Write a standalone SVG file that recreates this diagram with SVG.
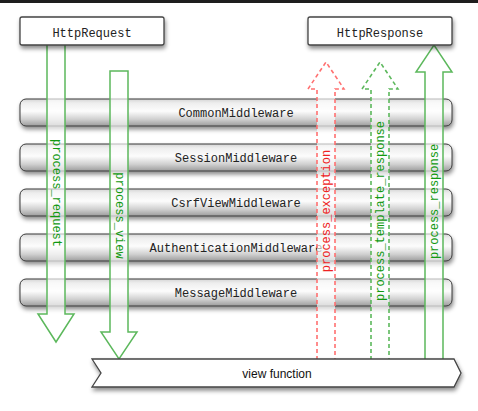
<svg xmlns="http://www.w3.org/2000/svg" width="478" height="411" viewBox="0 0 478 411">
  <style>
    .mono { font-family: "Liberation Mono", "Courier New", monospace; font-size: 12px; }
    .box { fill: #ffffff; stroke: #444444; stroke-width: 1.3; filter: url(#shadow); }
    .bar { fill: url(#barGrad); stroke: #3a3a3a; stroke-width: 1; filter: url(#shadow); }
    .barText { fill: #222222; text-anchor: middle; }
    .boxText { fill: #222222; text-anchor: middle; }
    .arrowG { fill: #ffffff; fill-opacity: 0.65; stroke: #5cb85c; stroke-width: 1.5; stroke-linejoin: miter; }
    .arrowGD { fill: #ffffff; fill-opacity: 0.65; stroke: #5cb85c; stroke-width: 1.6; stroke-dasharray: 4 3; }
    .arrowRD { fill: #ffffff; fill-opacity: 0.65; stroke: #ff7070; stroke-width: 1.6; stroke-dasharray: 4 3; }
    .lblG { fill: #119911; text-anchor: middle; }
    .lblR { fill: #ee2222; text-anchor: middle; }
    .sans { font-family: "Liberation Sans", Arial, sans-serif; font-size: 12px; fill: #111111; text-anchor: middle; }
  </style>
  <defs>
    <linearGradient id="barGrad" x1="0" y1="0" x2="0" y2="1">
      <stop offset="0" stop-color="#d4d4d4"/>
      <stop offset="0.15" stop-color="#eeeeee"/>
      <stop offset="0.45" stop-color="#fcfcfc"/>
      <stop offset="0.75" stop-color="#d0d0d0"/>
      <stop offset="1" stop-color="#9c9c9c"/>
    </linearGradient>
    <filter id="shadow" x="-10%" y="-30%" width="120%" height="180%">
      <feDropShadow dx="1" dy="3" stdDeviation="2.2" flood-color="#000000" flood-opacity="0.45"/>
    </filter>
  </defs>

  <rect x="0" y="0" width="478" height="411" fill="#ffffff"/>
  <rect x="0" y="0" width="478" height="3" fill="#1e1e1e"/>

  <g id="CommonMiddleware">
    <rect class="bar" x="20" y="99" width="432" height="27" rx="6"/>
    <text class="mono barText" x="236" y="117">CommonMiddleware</text>
  </g>
  <g id="SessionMiddleware">
    <rect class="bar" x="20" y="144" width="432" height="27" rx="6"/>
    <text class="mono barText" x="236" y="162">SessionMiddleware</text>
  </g>
  <g id="CsrfViewMiddleware">
    <rect class="bar" x="20" y="189" width="432" height="27" rx="6"/>
    <text class="mono barText" x="236" y="207">CsrfViewMiddleware</text>
  </g>
  <g id="AuthenticationMiddleware">
    <rect class="bar" x="20" y="234" width="432" height="27" rx="6"/>
    <text class="mono barText" x="236" y="252">AuthenticationMiddleware</text>
  </g>
  <g id="MessageMiddleware">
    <rect class="bar" x="20" y="279" width="432" height="27" rx="6"/>
    <text class="mono barText" x="236" y="297">MessageMiddleware</text>
  </g>

  <g id="connectors">
    <g id="process_request">
      <path class="arrowG" d="M47,44 L47,314 L38,314 L56,342 L74,314 L65,314 L65,44 Z"/>
      <text class="mono lblG" transform="translate(52.5,193) rotate(90)">process_request</text>
    </g>
    <g id="process_view">
      <path class="arrowG" d="M110,71 L110,332 L101,332 L119,359 L137,332 L128,332 L128,71 Z"/>
      <text class="mono lblG" transform="translate(115.5,215.5) rotate(90)">process_view</text>
    </g>
    <g id="process_exception">
      <path class="arrowRD" d="M317,360 L317,89 L308,89 L326,62 L344,89 L335,89 L335,360"/>
      <text class="mono lblR" transform="translate(329.5,211) rotate(-90)">process_exception</text>
    </g>
    <g id="process_template_response">
      <path class="arrowGD" d="M371,360 L371,89 L362,89 L380,62 L398,89 L389,89 L389,360"/>
      <text class="mono lblG" transform="translate(383.5,211) rotate(-90)">process_template_response</text>
    </g>
    <g id="process_response">
      <path class="arrowG" d="M425,360 L425,72 L416,72 L434,45 L452,72 L443,72 L443,360"/>
      <text class="mono lblG" transform="translate(437.5,201.5) rotate(-90)">process_response</text>
    </g>
  </g>

  <g id="HttpRequest">
    <rect class="box" x="20" y="17" width="144" height="28" rx="2"/>
    <text class="mono boxText" x="92" y="36.5">HttpRequest</text>
  </g>
  <g id="HttpResponse">
    <rect class="box" x="308" y="17" width="144" height="28" rx="2"/>
    <text class="mono boxText" x="380" y="36.5">HttpResponse</text>
  </g>

  <g id="view_function">
    <polygon class="box" points="92,359 454,359 461,373 454,387 92,387 101,373"/>
    <text class="sans" x="277" y="377.5">view function</text>
  </g>
</svg>
